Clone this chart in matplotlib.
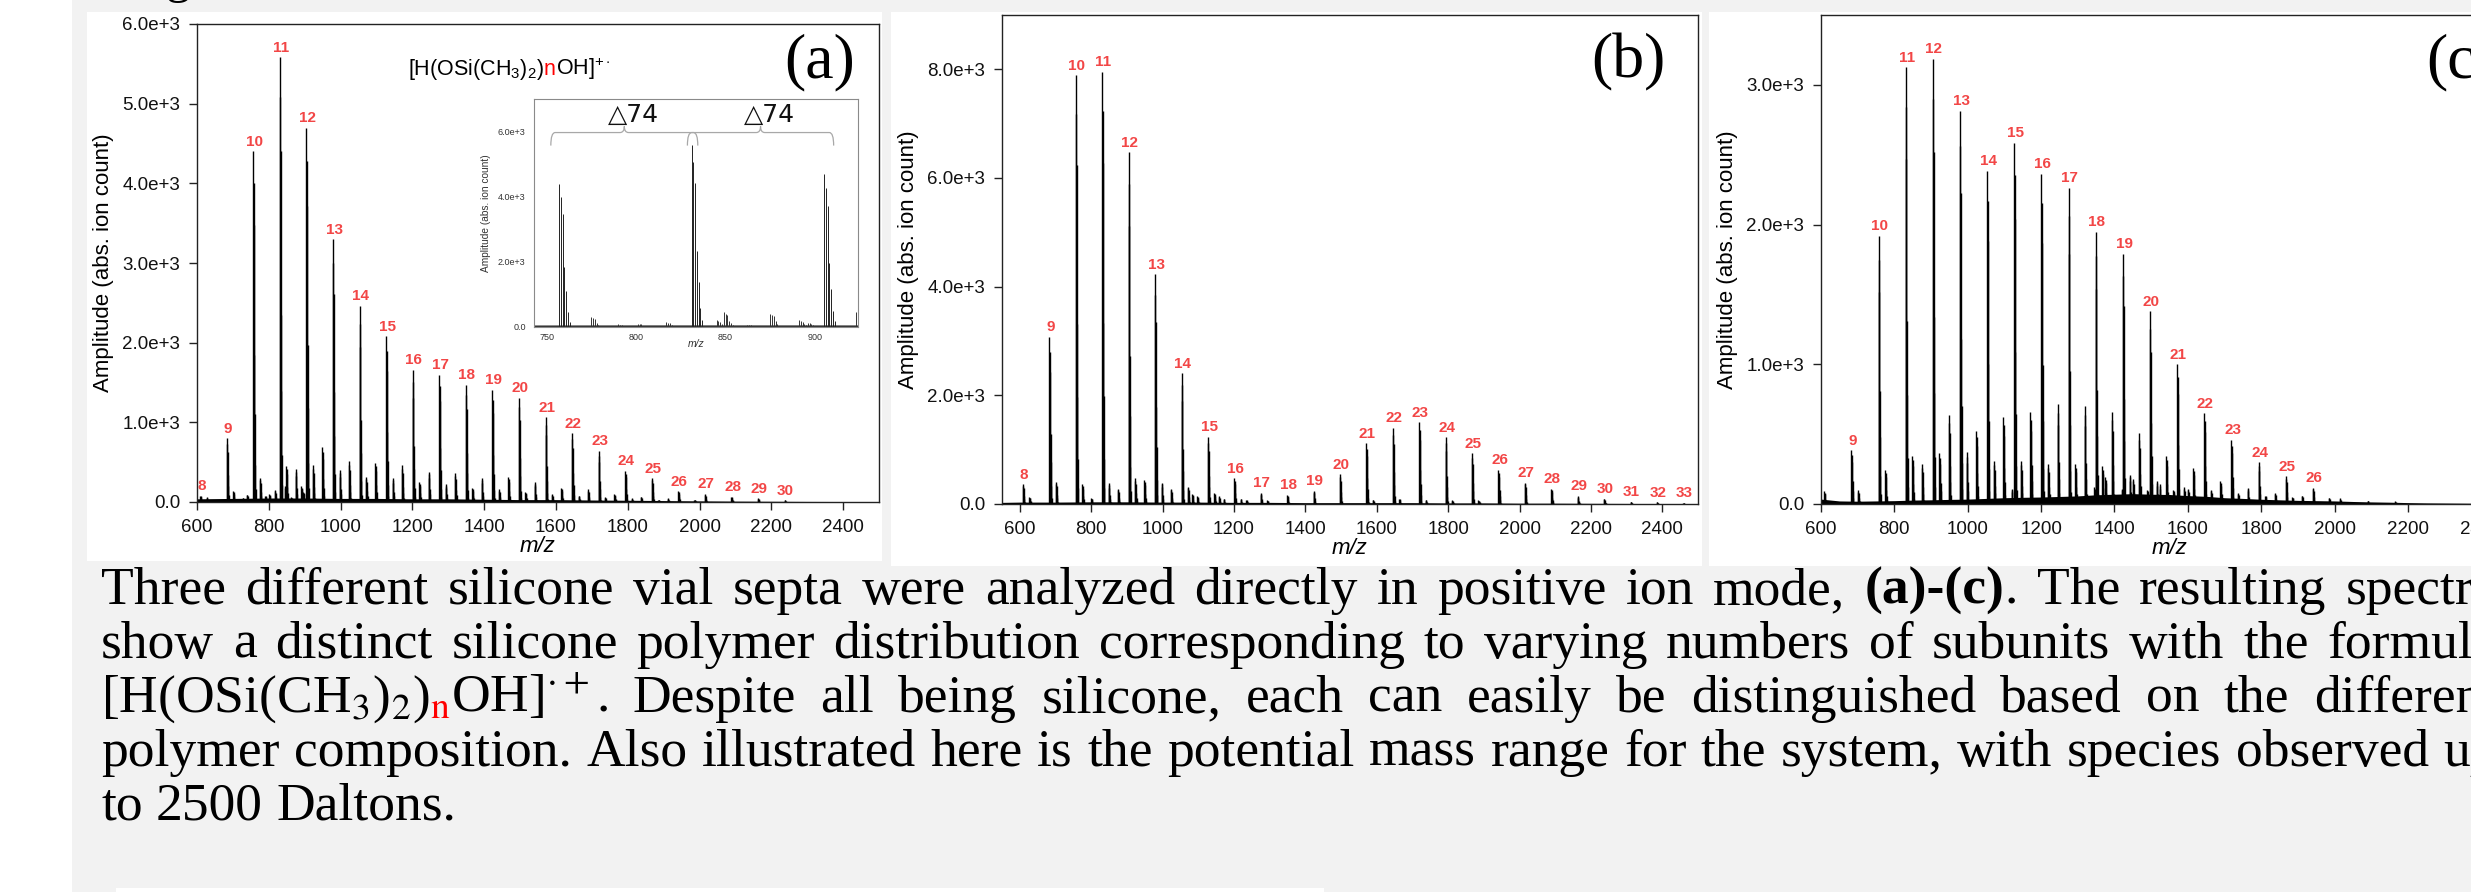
import matplotlib
matplotlib.use("Agg")
import matplotlib.pyplot as plt
from matplotlib.patches import Rectangle, PathPatch
from matplotlib.path import Path
from matplotlib.transforms import IdentityTransform

# output size in pixels
W, H = 2471, 892
RED = "#f24646"

##############################################
#        values        #
##############################################

# shape of one isotope cluster (offset in Da, height relative to the top line)
iso_offset = [0, 1, 2, 3, 4, 5, 6]
iso_rel = [1.0, 0.91, 0.79, 0.42, 0.25, 0.105, 0.038]

# panel (a)
n_a = [8, 9, 10, 11, 12, 13, 14, 15, 16, 17, 18, 19, 20, 21, 22, 23, 24, 25, 26, 27, 28, 29, 30]
mz_a = [609, 683, 757, 831, 905, 979, 1053, 1127, 1201, 1275, 1349, 1423, 1497, 1571, 1645,
        1719, 1793, 1867, 1941, 2015, 2089, 2163, 2237]
h_a = [80, 800, 4400, 5580, 4700, 3300, 2460, 2080, 1660, 1600, 1470, 1410, 1310, 1065, 865,
       640, 390, 300, 135, 103, 67, 45, 22]
minor_mz_a = [627, 701, 727, 739, 775, 790, 801, 817, 845, 849, 862, 875, 891, 896, 923, 949,
              997, 1023, 1071, 1097, 1145, 1171, 1219, 1245, 1293, 1319, 1367, 1393, 1441, 1467,
              1515, 1541, 1589, 1615, 1663, 1689, 1737, 1763, 1811, 1837, 1885, 1911, 1985]
minor_h_a = [60, 135, 50, 90, 300, 80, 100, 150, 200, 450, 60, 410, 200, 130, 460, 690,
             400, 510, 315, 495, 305, 460, 255, 380, 225, 360, 180, 305, 157, 315,
             120, 250, 100, 180, 80, 157, 60, 100, 45, 67, 30, 45, 30]
base_mz_a = [600, 700, 800, 900, 1000, 1100, 1200, 1300, 1400, 1500, 1600, 1700, 1800, 1900,
             2000, 2100, 2200, 2300, 2400, 2500]
base_h_a = [40, 45, 50, 50, 45, 45, 40, 40, 35, 30, 30, 25, 22, 18, 14, 11, 9, 7, 6, 5]

# panel (b)
n_b = [8, 9, 10, 11, 12, 13, 14, 15, 16, 17, 18, 19, 20, 21, 22, 23, 24, 25, 26, 27, 28, 29,
       30, 31, 32, 33]
mz_b = [609, 683, 757, 831, 905, 979, 1053, 1127, 1201, 1275, 1349, 1423, 1497, 1571, 1645,
        1719, 1793, 1867, 1941, 2015, 2089, 2163, 2237, 2311, 2385, 2459]
h_b = [362, 3080, 7890, 7950, 6470, 4230, 2410, 1240, 475, 210, 165, 245, 545, 1120, 1400,
       1500, 1225, 935, 625, 395, 283, 150, 100, 46, 33, 20]
minor_mz_b = [627, 701, 775, 800, 849, 875, 923, 949, 997, 1023, 1071, 1083, 1097, 1145, 1158,
              1171, 1219, 1235, 1293, 1589, 1663, 1737, 1811, 1885]
minor_h_b = [130, 410, 360, 110, 380, 276, 475, 450, 395, 276, 316, 184, 145, 198, 145,
             99, 99, 79, 66, 79, 99, 79, 66, 66]
base_mz_b = [550, 600, 700, 800, 900, 1000, 1100, 1200, 1300, 1400, 1500, 1600, 1700, 1800,
             1900, 2000, 2100, 2200, 2300, 2400, 2500]
base_h_b = [30, 35, 35, 40, 40, 35, 35, 30, 30, 25, 25, 25, 25, 20, 20, 15, 15, 12, 10, 8, 6]

# panel (c)
n_c = [9, 10, 11, 12, 13, 14, 15, 16, 17, 18, 19, 20, 21, 22, 23, 24, 25, 26]
mz_c = [683, 757, 831, 905, 979, 1053, 1127, 1201, 1275, 1349, 1423, 1497, 1571, 1645, 1719,
        1793, 1867, 1941]
h_c = [385, 1920, 3125, 3185, 2815, 2385, 2585, 2365, 2265, 1950, 1790, 1380, 1000, 650, 460,
       300, 197, 115]
minor_mz_c = [609, 701, 775, 849, 875, 923, 949, 997, 1023, 1071, 1097, 1120, 1145, 1171, 1219,
              1245, 1293, 1319, 1345, 1367, 1375, 1393, 1420, 1441, 1450, 1467, 1490, 1515,
              1523, 1541, 1560, 1589, 1600, 1615, 1663, 1689, 1737, 1763, 1811, 1837, 1885,
              1911, 1985, 2015, 2090, 2165]
minor_h_c = [90, 97, 243, 345, 286, 363, 640, 371, 524, 307, 620, 110, 307, 660, 286,
             716, 286, 703, 120, 269, 190, 657, 110, 210, 180, 506, 100, 166,
             140, 345, 100, 120, 110, 261, 100, 166, 80, 115, 60, 82, 50,
             60, 45, 40, 25, 18]
base_mz_c = [600, 650, 700, 750, 800, 850, 900, 950, 1000, 1050, 1100, 1150, 1200, 1250, 1300,
             1350, 1400, 1450, 1500, 1550, 1600, 1650, 1700, 1750, 1800, 1850, 1900, 1950,
             2000, 2050, 2100, 2150, 2200, 2250, 2300, 2400, 2500]
base_h_c = [35, 22, 20, 22, 24, 28, 30, 33, 35, 40, 45, 48, 50, 54, 58, 66, 70, 74, 70,
            68, 60, 55, 45, 40, 34, 30, 26, 24, 22, 18, 15, 13, 10, 8, 7, 5, 4]

# axis ticks
xticks = [600, 800, 1000, 1200, 1400, 1600, 1800, 2000, 2200, 2400]
yticks_a = [0, 1000, 2000, 3000, 4000, 5000, 6000]
ylabels_a = ["0.0", "1.0e+3", "2.0e+3", "3.0e+3", "4.0e+3", "5.0e+3", "6.0e+3"]
yticks_b = [0, 2000, 4000, 6000, 8000]
ylabels_b = ["0.0", "2.0e+3", "4.0e+3", "6.0e+3", "8.0e+3"]
yticks_c = [0, 1000, 2000, 3000]
ylabels_c = ["0.0", "1.0e+3", "2.0e+3", "3.0e+3"]
xticks_in = [750, 800, 850, 900]
yticks_in = [0, 2000, 4000, 6000]
ylabels_in = ["0.0", "2.0e+3", "4.0e+3", "6.0e+3"]

# inset brace annotations (m/z range spanned by each brace)
brace_left = [752.4, 828.7]
brace_right = [834.5, 910.4]
brace_text = ["\u25b374", "\u25b374"]

# caption lines, words separated by spaces
caption = [
    "Three different silicone vial septa were analyzed directly in positive ion mode, (a)-(c). The resulting spectra",
    "show a distinct silicone polymer distribution corresponding to varying numbers of subunits with the formula",
    "FORMULA Despite all being silicone, each can easily be distinguished based on the different",
    "polymer composition. Also illustrated here is the potential mass range for the system, with species observed up",
    "to 2500 Daltons.",
]

##############################################
#                  figure                    #
##############################################

plt.rcParams["font.family"] = ["Liberation Sans", "DejaVu Sans"]
plt.rcParams["mathtext.fontset"] = "custom"
plt.rcParams["mathtext.rm"] = "Liberation Sans"
plt.rcParams["mathtext.it"] = "Liberation Sans:italic"
plt.rcParams["mathtext.bf"] = "Liberation Sans:bold"

fig = plt.figure(figsize=(W / 100, H / 100), dpi=100, facecolor="white")
renderer = fig.canvas.get_renderer()
ident = IdentityTransform()


def px_rect(x0, y0, x1, y1, color):
    # rectangle given in picture pixels (origin top left)
    fig.add_artist(Rectangle((x0, H - y1), x1 - x0, y1 - y0, transform=ident,
                             facecolor=color, edgecolor="none", zorder=-10))


def px_axes(left, top, right, bottom):
    return fig.add_axes([left / W, 1 - bottom / H, (right - left) / W, (bottom - top) / H])


# page background and the white panels
px_rect(72, 0, W, H, "#f2f2f2")
px_rect(87, 12, 882, 561, "white")
px_rect(891, 12, 1702, 566, "white")
px_rect(1709, 12, W + 5, 566, "white")
px_rect(116, 888, 1324, H + 2, "white")


def draw_peaks(ax, mz, h, lw, color="black"):
    xs, ys = [], []
    for m, v in zip(mz, h):
        for o, r in zip(iso_offset, iso_rel):
            xs.append(m + o)
            ys.append(v * r)
    ax.vlines(xs, 0, ys, color=color, lw=lw)


def spectrum_panel(ax, mz, h, n, minor_mz, minor_h, base_mz, base_h, xlim, ylim, yticks, ylabels):
    ax.fill_between(base_mz, 0, base_h, color="black", lw=0)
    draw_peaks(ax, minor_mz, minor_h, 1.0)
    draw_peaks(ax, mz, h, 1.0)
    for num, m, v in zip(n, mz, h):
        ax.annotate(str(num), xy=(m + 3, v), xytext=(0, 4), textcoords="offset points",
                    ha="center", va="baseline", color=RED, fontsize=11, fontweight="bold")
    ax.set_xlim(*xlim)
    ax.set_ylim(*ylim)
    ax.set_xticks(xticks)
    ax.set_yticks(yticks)
    ax.set_yticklabels(ylabels)
    ax.tick_params(direction="out", length=6, width=1, color="#222222", labelsize=13.5,
                   labelcolor="#111111", pad=6)
    for s in ax.spines.values():
        s.set_linewidth(1.0)
        s.set_color("#222222")
    ax.set_ylabel("Amplitude (abs. ion count)", fontsize=16, labelpad=6)
    ax.set_xlabel("m/z", fontsize=16, fontstyle="italic", labelpad=0)


ax_a = px_axes(197, 24, 879, 502)
spectrum_panel(ax_a, mz_a, h_a, n_a, minor_mz_a, minor_h_a, base_mz_a, base_h_a,
               (600, 2500), (0, 6000), yticks_a, ylabels_a)

ax_b = px_axes(1002, 15, 1698, 504)
spectrum_panel(ax_b, mz_b, h_b, n_b, minor_mz_b, minor_h_b, base_mz_b, base_h_b,
               (550, 2500), (0, 9000), yticks_b, ylabels_b)

ax_c = px_axes(1821, 15, 2518, 504)
spectrum_panel(ax_c, mz_c, h_c, n_c, minor_mz_c, minor_h_c, base_mz_c, base_h_c,
               (600, 2500), (0, 3500), yticks_c, ylabels_c)

# panel letters
for label, x in [("(a)", 820), ("(b)", 1628), ("(c)", 2462)]:
    fig.text(x, H - 62, label, transform=ident, ha="center", va="center",
             family="Liberation Serif", fontsize=46)

# inset of panel (a): zoom on n = 10 to 12
ax_in = px_axes(534, 99, 858, 327)
ax_in.fill_between(base_mz_a, 0, base_h_a, color="#333333", lw=0)
draw_peaks(ax_in, minor_mz_a, minor_h_a, 0.7, "#333333")
draw_peaks(ax_in, mz_a, h_a, 0.7, "#222222")
ax_in.set_xlim(743, 924)
ax_in.set_ylim(0, 7000)
ax_in.set_xticks(xticks_in)
ax_in.set_yticks(yticks_in)
ax_in.set_yticklabels(ylabels_in)
ax_in.tick_params(length=0, labelsize=6.5, labelcolor="#333333")
ax_in.tick_params(axis="y", pad=6)
ax_in.tick_params(axis="x", pad=4)
for s in ax_in.spines.values():
    s.set_linewidth(0.8)
    s.set_color("#8a8a8a")
ax_in.set_ylabel("Amplitude (abs. ion count)", fontsize=7.3, color="#333333", labelpad=5)
ax_in.set_xlabel("m/z", fontsize=7.5, fontstyle="italic", color="#333333", labelpad=-2)

for x0, x1, txt in zip(brace_left, brace_right, brace_text):
    xm = (x0 + x1) / 2
    dx = 2.4
    y0, y1, y2 = 5570, 5970, 6160
    verts = [(x0, y0), (x0, y1), (x0 + dx, y1), (xm - dx, y1), (xm, y1), (xm, y2),
             (xm, y1), (xm + dx, y1), (x1 - dx, y1), (x1, y1), (x1, y0)]
    codes = [Path.MOVETO, Path.CURVE3, Path.CURVE3, Path.LINETO, Path.CURVE3, Path.CURVE3,
             Path.CURVE3, Path.CURVE3, Path.LINETO, Path.CURVE3, Path.CURVE3]
    ax_in.add_patch(PathPatch(Path(verts, codes), facecolor="none", edgecolor="#a8a8a8", lw=0.9))
    ax_in.text(xm + 5, 6523, txt, ha="center", va="center", fontsize=18,
               family=["DejaVu Sans", "Liberation Sans"], color="#111111")


# formula above the inset
def place_segments(x, y, segs, **base):
    objs = []
    for s, kw in segs:
        opts = dict(base)
        opts.update(kw)
        t = fig.text(x, H - y, s, transform=ident, ha="left", va="baseline", **opts)
        x += t.get_window_extent(renderer=renderer).width
        objs.append(t)
    return objs


place_segments(408, 75, [("[H(OSi(CH$_3$)$_2$)", {}), ("n", {"color": "red"}),
                         ("OH]$^{+\\cdot}$", {})], fontsize=15.5)

# cut-off descender of the heading above the figure
fig.text(166, H + 8, "g", transform=ident, ha="left", va="baseline",
         family="Liberation Serif", fontsize=36)

##############################################
#              justified caption             #
##############################################

cap_font = dict(family="Liberation Serif", fontsize=38.5, color="black", math_fontfamily="stix")


def words_of(line):
    out = []
    for w in line.split(" "):
        if w == "FORMULA":
            out.append([("[H(OSi(CH$_3$)$_2$)", {}), ("$_\\mathrm{n}$", {"color": "red"}),
                        ("OH]$^{\\cdot+}$.", {})])
        elif w == "(a)-(c).":
            out.append([("(a)-(c)", {"fontweight": "bold"}), (".", {})])
        else:
            out.append([(w, {})])
    return out


def width_of(t):
    return t.get_window_extent(renderer=renderer).width


probe1 = fig.text(0, 0, "a a", transform=ident, **cap_font)
probe2 = fig.text(0, 0, "aa", transform=ident, **cap_font)
space_w = width_of(probe1) - width_of(probe2)
probe1.remove()
probe2.remove()

# right margin of the justified block lies just past the picture's edge
x_left, x_right = 101, 2497
baselines = [604, 658, 712, 766, 820]
for i, (line, yb) in enumerate(zip(caption, baselines)):
    made = []
    for segs in words_of(line):
        objs = []
        for s, kw in segs:
            opts = dict(cap_font)
            opts.update(kw)
            objs.append(fig.text(0, H - yb, s, transform=ident, ha="left", va="baseline", **opts))
        made.append(objs)
    widths = [sum(width_of(t) for t in objs) for objs in made]
    if i < len(caption) - 1:
        gap = (x_right - x_left - sum(widths)) / (len(made) - 1)
    else:
        gap = space_w
    x = x_left
    for objs in made:
        for t in objs:
            t.set_x(x)
            x += width_of(t)
        x += gap

fig.savefig("out.png", dpi=100, facecolor="white")
